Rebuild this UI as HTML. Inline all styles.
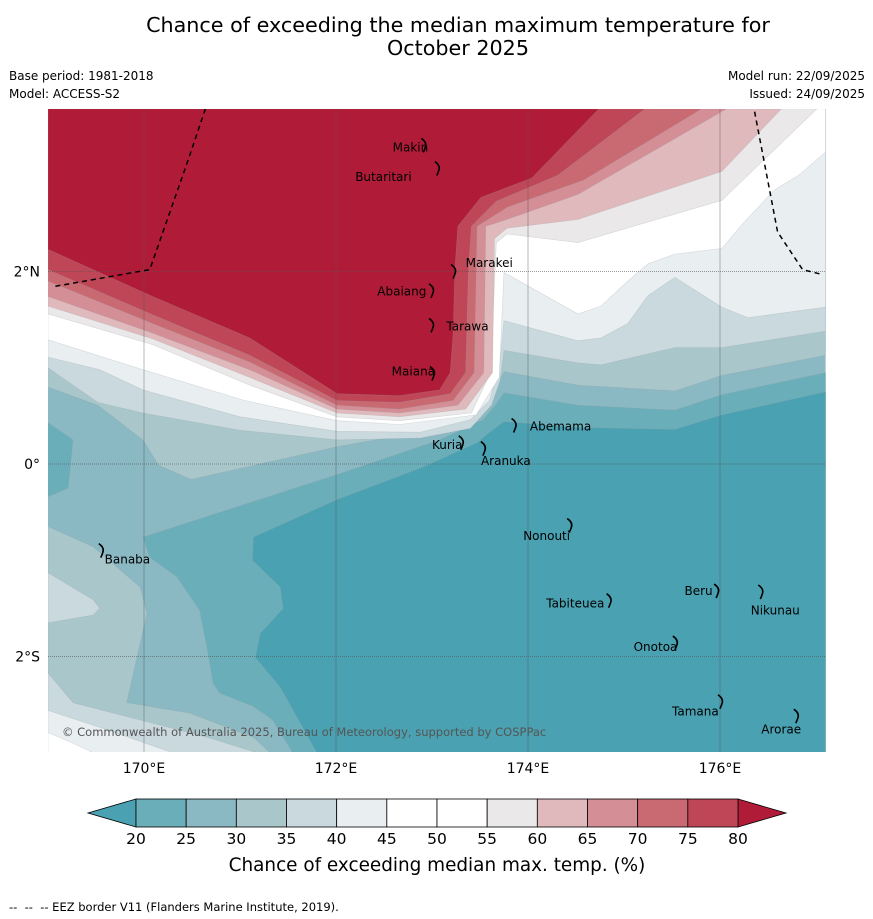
<!DOCTYPE html>
<html><head><meta charset="utf-8"><style>
html,body{margin:0;padding:0;background:#fff;}
svg{display:block;font-family:"DejaVu Sans","Liberation Sans",sans-serif;}
</style></head><body>
<svg id="chart" width="873" height="919" viewBox="0 0 873 919" xmlns="http://www.w3.org/2000/svg">
<rect x="0" y="0" width="873" height="919" fill="#fff"/>
<text x="458" y="32" font-size="20.7" text-anchor="middle" fill="#000">Chance of exceeding the median maximum temperature for</text>
<text x="458" y="55" font-size="20.7" text-anchor="middle" fill="#000">October 2025</text>
<text x="9" y="80" font-size="12">Base period: 1981-2018</text>
<text x="9" y="98" font-size="12">Model: ACCESS-S2</text>
<text x="865" y="80" font-size="12" text-anchor="end">Model run: 22/09/2025</text>
<text x="865" y="98" font-size="12" text-anchor="end">Issued: 24/09/2025</text>
<defs><clipPath id="mapclip"><rect x="48" y="109" width="778" height="643"/></clipPath></defs>
<g id="map" clip-path="url(#mapclip)"></g>
<g id="axes"></g>
<g id="cbar"></g>
<text x="437" y="871" font-size="18.4" text-anchor="middle">Chance of exceeding median max. temp. (%)</text>
<text x="9" y="911" font-size="11.5" xml:space="preserve">--  --  -- EEZ border V11 (Flanders Marine Institute, 2019).</text>
</svg>
<script>
// ---- data ----
const colors = ["#4aa1b1","#6aaeb9","#8ab8c3","#a9c7cb","#cad9de","#e9eff1","#ffffff","#ffffff","#ebe8e9","#e0b9bd","#d48e96","#c96a73","#bf4656","#b01c37"];
const levels = [20,25,30,35,40,45,50,55,60,65,70,75,80];
const lonTicks = [170,172,174,176];
const lonTickLabels = ["170°E","172°E","174°E","176°E"];
const latTicks = [2,0,-2];
const latTickLabels = ["2°N","0°","2°S"];
// contour boundaries [lon,lat]
const c20 = [[177.1,0.75],[176.02,0.51],[175.53,0.36],[174.52,0.38],[173.75,0.44],[173.60,0.33],[173.47,0.22],[172.91,-0.03],[172.01,-0.37],[171.14,-0.76],[171.13,-1.0],[171.42,-1.28],[171.45,-1.50],[171.21,-1.76],[171.16,-2.01],[171.42,-2.32],[171.80,-3.0]];
const c25 = [[177.1,0.95],[176.02,0.72],[175.53,0.56],[174.52,0.61],[173.75,0.74],[173.66,0.61],[173.53,0.46],[173.08,0.25],[172.01,-0.11],[169.99,-0.76],[170.06,-0.97],[170.34,-1.17],[170.58,-1.52],[170.66,-1.93],[170.72,-2.28],[170.79,-2.38],[171.14,-2.52],[171.34,-2.66],[171.55,-3.0]];
const strip25 = [[169,0.43],[169.26,0.25],[169.21,-0.25],[169,-0.34]];
const ll30 = [[169,-0.65],[169.47,-0.86],[169.96,-1.28],[170.03,-1.55],[169.96,-1.86],[169.82,-2.48],[170.48,-2.59],[171.14,-2.84],[171.31,-3.0],[169,-3]];
const ll35a = [[169,-1.13],[169.47,-1.41],[169.54,-1.50],[169.47,-1.57],[169,-1.65]];
const ll35b = [[169,-2.17],[169.26,-2.48],[169.96,-2.66],[170.66,-2.84],[171.18,-3.0],[169,-3]];
const ll40 = [[169,-2.56],[169.61,-2.76],[170.30,-3.0],[169,-3]];
const ll45 = [[169,-2.79],[169.26,-2.90],[169.47,-3.0],[169,-3]];
const c30 = [[169,0.80],[169.52,0.61],[169.99,0.25],[170.15,-0.01],[170.49,-0.16],[172.01,0.18],[173.08,0.37],[173.53,0.54],[173.75,0.96],[174.52,0.82],[175.53,0.76],[176.02,0.92],[177.1,1.13]];
const c35 = [[169,1.00],[169.52,0.64],[169.99,0.53],[171.0,0.35],[172.01,0.25],[172.88,0.27],[173.40,0.37],[173.62,0.61],[173.71,0.87],[173.75,1.18],[174.52,1.05],[174.76,1.03],[175.53,1.21],[176.02,1.21],[177.1,1.38]];
const c40 = [[169,1.11],[169.54,0.98],[169.99,0.77],[171.0,0.49],[172.01,0.34],[172.88,0.33],[173.40,0.46],[173.60,0.66],[173.71,1.08],[173.75,1.49],[174.52,1.28],[174.76,1.31],[175.04,1.46],[175.25,1.75],[175.53,1.94],[176.02,1.63],[176.29,1.52],[177.1,1.63]];
const c45 = [[169,1.29],[169.99,0.98],[171.05,0.66],[172.01,0.45],[172.66,0.41],[173.46,0.51],[173.70,0.90],[173.75,1.99],[174.52,1.56],[174.76,1.64],[175.04,1.90],[175.25,2.08],[175.53,2.18],[176.02,2.24],[176.24,2.50],[176.57,2.85],[176.82,3.00],[177.1,3.24]];
const c55 = [[169,1.56],[170.09,1.24],[171.10,0.82],[172.01,0.49],[172.66,0.45],[173.41,0.53],[173.61,0.95],[173.67,2.30],[173.78,2.39],[174.52,2.30],[176.02,2.74],[177.01,3.69]];
const c60 = [[169,1.64],[170.09,1.30],[171.10,0.90],[172.01,0.53],[172.66,0.49],[173.35,0.57],[173.63,0.95],[173.65,2.34],[173.78,2.45],[174.52,2.54],[176.02,3.04],[176.64,3.69]];
const c65 = [[169,1.74],[170.09,1.36],[171.10,0.98],[172.01,0.57],[172.66,0.53],[173.27,0.61],[173.54,0.95],[173.56,2.47],[173.78,2.54],[174.52,2.80],[176.07,3.69]];
const c70 = [[169,1.90],[170.09,1.46],[171.10,1.06],[172.01,0.61],[172.66,0.57],[173.22,0.66],[173.44,0.95],[173.47,2.47],[173.79,2.67],[174.58,2.95],[175.81,3.69]];
const c75 = [[169,2.02],[170.09,1.55],[171.10,1.13],[172.01,0.66],[172.66,0.64],[173.19,0.73],[173.35,0.95],[173.38,2.04],[173.41,2.47],[173.67,2.73],[174.31,3.0],[175.22,3.69]];
const c80 = [[169,2.23],[170.09,1.74],[171.10,1.31],[172.01,0.73],[172.66,0.71],[173.08,0.77],[173.19,0.95],[173.22,1.34],[173.24,2.04],[173.27,2.47],[173.51,2.77],[174.04,2.97],[174.74,3.69]];
const eezWest = [[170.64,3.69],[170.46,3.16],[170.06,2.02],[169.04,1.84]];
const eezEast = [[176.36,3.66],[176.60,2.41],[176.86,2.02],[177.06,1.97]];
const islandNames = ["Makin","Butaritari","Marakei","Abaiang","Tarawa","Maiana","Abemama","Kuria","Aranuka","Nonouti","Banaba","Beru","Tabiteuea","Nikunau","Onotoa","Tamana","Arorae"];
const islandLon = [172.59,172.20,173.35,172.43,173.15,172.58,174.02,173.0,173.51,173.95,169.59,175.63,174.19,176.32,175.10,175.50,176.43];
const islandLat = [3.29,2.98,2.09,1.79,1.43,0.96,0.39,0.20,0.03,-0.75,-0.99,-1.32,-1.45,-1.52,-1.90,-2.57,-2.76];
const atollLon = [172.92,173.06,173.23,173.00,173.00,173.01,173.86,173.31,173.54,174.44,169.56,175.97,174.85,176.43,175.54,176.01,176.80];
const atollLat = [3.31,3.07,2.00,1.80,1.44,0.94,0.40,0.22,0.16,-0.64,-0.90,-1.32,-1.42,-1.33,-1.86,-2.47,-2.62];

// ---- scales ----
const LON0=170, X0=144, KX=96, Y0=464, KY=96.25;
const px = lon => X0 + (lon-LON0)*KX;
const py = lat => Y0 - lat*KY;
const NS="http://www.w3.org/2000/svg";
const map=document.getElementById('map'), axes=document.getElementById('axes'), cbar=document.getElementById('cbar');
const LONMIN=169, LONMAX=177.1, LATMIN=-3, LATMAX=3.69;
function pts(arr){return arr.map(p=>px(p[0]).toFixed(1)+','+py(p[1]).toFixed(1)).join(' ');}
function poly(parent, arr, fill, name){
  const e=document.createElementNS(NS,'polygon');
  e.setAttribute('points', pts(arr));
  e.setAttribute('fill', fill);
  e.setAttribute('stroke', 'rgba(150,160,165,0.35)');
  e.setAttribute('stroke-width', '0.6');
  
  
  parent.appendChild(e);
}
const TL=[LONMIN,LATMAX], TR=[LONMAX,LATMAX], BR=[LONMAX,LATMIN];
const base=document.createElementNS(NS,'rect');
base.setAttribute('x',px(LONMIN)); base.setAttribute('y',py(LATMAX));
base.setAttribute('width',px(LONMAX)-px(LONMIN)); base.setAttribute('height',py(LATMIN)-py(LATMAX));
base.setAttribute('fill',colors[2]);


map.appendChild(base);
poly(map, c25.concat([BR]), colors[1], 'band-20-25');
poly(map, strip25, colors[1], 'band-20-25-west');
poly(map, c20.concat([BR]), colors[0], 'band-below-20');
poly(map, ll30, colors[3], 'band-30-35-southwest');
poly(map, ll35a, colors[4], 'band-35-40-southwest');
poly(map, ll35b, colors[4], 'band-35-40-south');
poly(map, ll40, colors[5], 'band-40-45-south');
poly(map, ll45, colors[6], 'band-45-50-south');
poly(map, c30.concat([TR,TL]), colors[3], 'band-30-35');
poly(map, c35.concat([TR,TL]), colors[4], 'band-35-40');
poly(map, c40.concat([TR,TL]), colors[5], 'band-40-45');
poly(map, c45.concat([TR,TL]), colors[6], 'band-45-55');
poly(map, c55.concat([TL]), colors[8], 'band-55-60');
poly(map, c60.concat([TL]), colors[9], 'band-60-65');
poly(map, c65.concat([TL]), colors[10], 'band-65-70');
poly(map, c70.concat([TL]), colors[11], 'band-70-75');
poly(map, c75.concat([TL]), colors[12], 'band-75-80');
poly(map, c80.concat([TL]), colors[13], 'band-above-80');
lonTicks.forEach((lon,i)=>{
  const l=document.createElementNS(NS,'line');
  l.setAttribute('x1',px(lon)); l.setAttribute('x2',px(lon));
  l.setAttribute('y1',py(LATMAX)); l.setAttribute('y2',py(LATMIN));
  l.setAttribute('stroke','#555'); l.setAttribute('stroke-width','0.6'); l.setAttribute('stroke-opacity','0.7');
  
  
  map.appendChild(l);
  const t=document.createElementNS(NS,'text');
  t.setAttribute('x',px(lon)); t.setAttribute('y',773);
  t.setAttribute('font-size','14'); t.setAttribute('text-anchor','middle');
  t.textContent=lonTickLabels[i];
  
  
  axes.appendChild(t);
});
latTicks.forEach((lat,i)=>{
  const l=document.createElementNS(NS,'line');
  l.setAttribute('x1',px(LONMIN)); l.setAttribute('x2',px(LONMAX));
  l.setAttribute('y1',py(lat)); l.setAttribute('y2',py(lat));
  l.setAttribute('stroke','#555'); l.setAttribute('stroke-width','0.8'); l.setAttribute('stroke-dasharray','1,1'); l.setAttribute('stroke-opacity','0.8');
  
  
  map.appendChild(l);
  const t=document.createElementNS(NS,'text');
  t.setAttribute('x',40); t.setAttribute('y',py(lat)+5);
  t.setAttribute('font-size','14'); t.setAttribute('text-anchor','end');
  t.textContent=latTickLabels[i];
  
  
  axes.appendChild(t);
});
[eezWest,eezEast].forEach(arr=>{
  const e=document.createElementNS(NS,'polyline');
  e.setAttribute('points',pts(arr)); e.setAttribute('fill','none');
  e.setAttribute('stroke','#000'); e.setAttribute('stroke-width','1.5'); e.setAttribute('stroke-dasharray','5,4');
  
  
  map.appendChild(e);
});
islandNames.forEach((n,i)=>{
  const a=document.createElementNS(NS,'path');
  const x=px(atollLon[i]), y=py(atollLat[i]);
  a.setAttribute('d',`M${x-3},${y-7} q6,4 4,9 q-1,3 -2,5`);
  a.setAttribute('fill','none'); a.setAttribute('stroke','#000'); a.setAttribute('stroke-width','1.6');
  
  
  map.appendChild(a);
  const t=document.createElementNS(NS,'text');
  t.setAttribute('x',px(islandLon[i])); t.setAttribute('y',py(islandLat[i])+4);
  t.setAttribute('font-size','12');
  t.textContent=n;
  
  
  map.appendChild(t);
});
const cp=document.createElementNS(NS,'text');
cp.setAttribute('x',62); cp.setAttribute('y',736); cp.setAttribute('font-size','11.5'); cp.setAttribute('fill','#555');
cp.textContent='© Commonwealth of Australia 2025, Bureau of Meteorology, supported by COSPPac';


map.appendChild(cp);
const CB0=136, CB1=738, CBY=799, CBH=28;
const cx = v => CB0 + (v-levels[0])/(levels[levels.length-1]-levels[0])*(CB1-CB0);
const lt=document.createElementNS(NS,'polygon');
lt.setAttribute('points',`${CB0},${CBY} 88,${CBY+CBH/2} ${CB0},${CBY+CBH}`);
lt.setAttribute('fill',colors[0]); lt.setAttribute('stroke','#000'); lt.setAttribute('stroke-width','0.8');


cbar.appendChild(lt);
const rt=document.createElementNS(NS,'polygon');
rt.setAttribute('points',`${CB1},${CBY} 786,${CBY+CBH/2} ${CB1},${CBY+CBH}`);
rt.setAttribute('fill',colors[13]); rt.setAttribute('stroke','#000'); rt.setAttribute('stroke-width','0.8');


cbar.appendChild(rt);
for(let i=0;i<levels.length-1;i++){
  const r=document.createElementNS(NS,'rect');
  r.setAttribute('x',cx(levels[i])); r.setAttribute('y',CBY);
  r.setAttribute('width',cx(levels[i+1])-cx(levels[i])); r.setAttribute('height',CBH);
  r.setAttribute('fill',colors[i+1]); r.setAttribute('stroke','#000'); r.setAttribute('stroke-width','0.8');
  
  
  cbar.appendChild(r);
}
levels.forEach(v=>{
  const t=document.createElementNS(NS,'text');
  t.setAttribute('x',cx(v)); t.setAttribute('y',844);
  t.setAttribute('font-size','15.5'); t.setAttribute('text-anchor','middle');
  t.textContent=v;
  
  
  cbar.appendChild(t);
});
</script>
</body></html>
